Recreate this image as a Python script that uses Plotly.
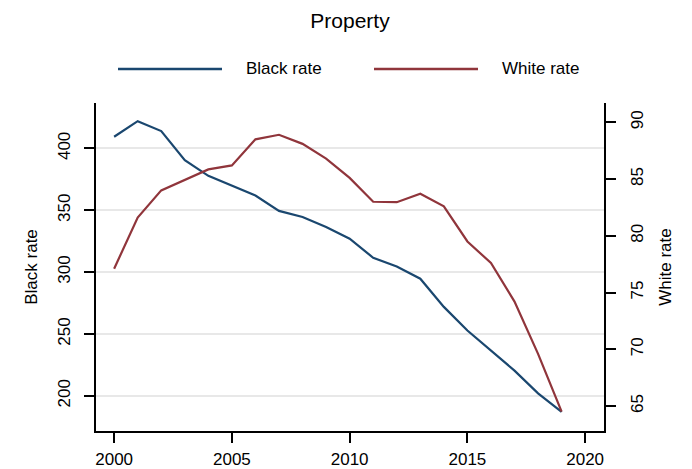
import plotly.graph_objects as go

years = list(range(2000, 2020))
black_rate = [409.4, 422.0, 414.0, 390.5, 377.8, 369.7, 361.9, 349.5, 344.6, 336.5,
              327.0, 311.6, 304.6, 294.7, 271.9, 252.8, 236.6, 220.4, 202.0, 187.1]
white_rate = [77.1, 81.6, 84.0, 84.9, 85.85, 86.2, 88.5, 88.9, 88.1, 86.8,
              85.1, 83.0, 82.96, 83.7, 82.6, 79.5, 77.6, 74.2, 69.6, 64.5]
x_ticks = [2000, 2005, 2010, 2015, 2020]
left_ticks = [200, 250, 300, 350, 400]
right_ticks = [65, 70, 75, 80, 85, 90]

BLUE = "#1a476f"
RED = "#90353b"
FONT = "Liberation Sans, Arial, sans-serif"

# the page body has an 8px margin, so the figure is drawn 8px smaller
OFF = 8
W, H = 692 - OFF, 469 - OFF
L, R, T, B = 88, 88, 95, 38
pw, ph = W - L - R, H - T - B

def px(x):  # page pixel -> paper
    return (x - OFF - L) / pw

def py(y):
    return (H - B - (y - OFF)) / ph

fig = go.Figure()
fig.add_trace(go.Scatter(x=years, y=black_rate, mode="lines", name="Black rate",
                         line=dict(color=BLUE, width=2.2), yaxis="y"))
fig.add_trace(go.Scatter(x=years, y=white_rate, mode="lines", name="White rate",
                         line=dict(color=RED, width=2.2), yaxis="y2"))

axis_common = dict(showline=True, linecolor="black", linewidth=1.5,
                   ticks="outside", ticklen=10, tickwidth=1.5, tickcolor="black",
                   zeroline=False, automargin=False,
                   tickfont=dict(size=17, color="black", family=FONT))

fig.update_layout(
    width=W, height=H, autosize=False,
    margin=dict(l=L, r=R, t=T, b=B),
    paper_bgcolor="white", plot_bgcolor="white",
    font=dict(family=FONT, color="black"),
    showlegend=False,
    title=dict(text="Property", x=0.5, xanchor="center", y=1 - (21 - OFF) / H,
               yanchor="middle", yref="container",
               font=dict(size=21, color="black", family=FONT)),
    xaxis=dict(range=[1999.23, 2020.8], tickvals=x_ticks, showgrid=False,
               ticklabelstandoff=2, **axis_common),
    yaxis=dict(range=[171.6, 436.7], tickvals=left_ticks, tickangle=-90,
               showgrid=True, gridcolor="#e8e8e8", gridwidth=1.5, ticklabelstandoff=7,
               title=dict(text="Black rate", font=dict(size=17, family=FONT), standoff=14),
               **axis_common),
    yaxis2=dict(range=[62.8, 91.7], tickvals=right_ticks, tickangle=-90,
                overlaying="y", side="right", showgrid=False, ticklabelstandoff=7,
                title=dict(text="White rate", font=dict(size=17, family=FONT), standoff=13),
                **axis_common),
)

# manual legend (long line samples as in the reference)
for (x0, x1, xt, color, label) in [(118, 222, 244, BLUE, "Black rate"),
                                   (374, 478, 500, RED, "White rate")]:
    fig.add_shape(type="line", xref="paper", yref="paper",
                  x0=px(x0), x1=px(x1), y0=py(69), y1=py(69),
                  line=dict(color=color, width=2.5))
    fig.add_annotation(xref="paper", yref="paper", x=px(xt), y=py(69),
                       xanchor="left", yanchor="middle", text=label, showarrow=False,
                       font=dict(size=17, color="black", family=FONT))

fig.write_html("out.html")
